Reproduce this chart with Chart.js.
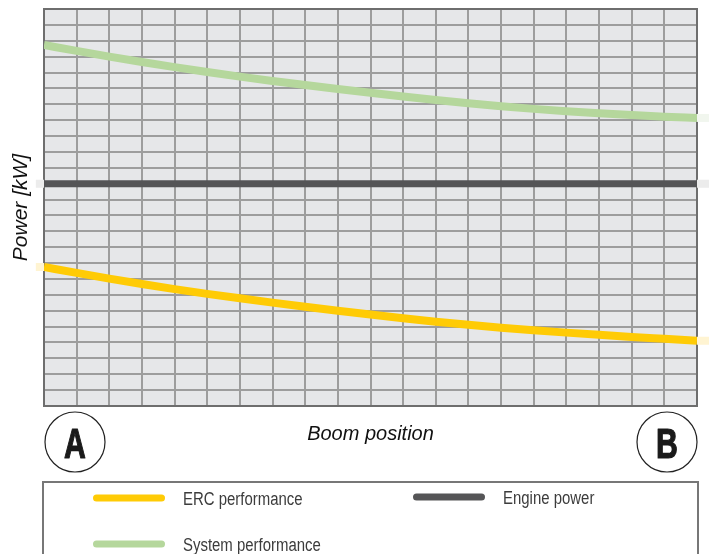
<!DOCTYPE html>
<html>
<head>
<meta charset="utf-8">
<title>Power vs boom position</title>
<script src="https://cdn.jsdelivr.net/npm/chart.js@4.4.1/dist/chart.umd.min.js"></script>
<style>
  body { margin: 0; background: #fff; }
  canvas { display: block; }
</style>
</head>
<body>
<canvas id="powerChart" width="709" height="554"></canvas>
<script>
// boom position from A (0) to B (20), one step per grid column
var boomPositions = [0, 1, 2, 3, 4, 5, 6, 7, 8, 9, 10, 11, 12, 13, 14, 15, 16, 17, 18, 19, 20];
// power in grid rows (25 rows, no scale printed on the original)
var ercPerformance = [8.75, 8.38, 8.02, 7.68, 7.36, 7.06, 6.78, 6.51, 6.25, 6.0, 5.76, 5.53, 5.31, 5.11, 4.93, 4.77, 4.62, 4.48, 4.35, 4.23, 4.11];
var systemPerformance = [22.73, 22.36, 22.0, 21.66, 21.34, 21.03, 20.74, 20.47, 20.21, 19.96, 19.72, 19.49, 19.27, 19.07, 18.88, 18.71, 18.56, 18.43, 18.32, 18.22, 18.14];
var enginePower = [14, 14, 14, 14, 14, 14, 14, 14, 14, 14, 14, 14, 14, 14, 14, 14, 14, 14, 14, 14, 14];
// the printed lines run a little past the grid on the sides
var leftOverrun = -0.25;
var rightOverrun = 20.4;
var endLabels = ['A', 'B'];

function toPoints(values) {
  return boomPositions.map(function(x, i) { return { x: x, y: values[i] }; });
}

// faint bits of line outside the grid
// (points kept unsorted on purpose so chart.js draws them all)
function overrun(values, left, right) {
  var pts = [];
  if (left) { pts.push({ x: 0, y: values[0] }, { x: leftOverrun, y: values[0] }); }
  pts.push({ x: 10, y: null });
  if (right) {
    var last = values[values.length - 1];
    pts.push({ x: rightOverrun, y: last }, { x: 20, y: last });
  }
  return pts;
}

function faint(color, data) {
  return {
    label: '', data: data, borderColor: color, borderWidth: 8,
    tension: 0, clip: false, spanGaps: false, order: 10, faint: true
  };
}

var chartDecor = {
  id: 'chartDecor',
  beforeDraw: function(chart) {
    var a = chart.chartArea, ctx = chart.ctx;
    ctx.save();
    ctx.fillStyle = '#e6e7e9';
    ctx.fillRect(a.left, a.top, a.right - a.left, a.bottom - a.top);
    ctx.restore();
  },
  beforeDatasetsDraw: function(chart) {
    var a = chart.chartArea, ctx = chart.ctx;
    ctx.save();
    ctx.strokeStyle = '#6e6e6e';
    ctx.lineWidth = 2;
    ctx.strokeRect(a.left, a.top, a.right - a.left, a.bottom - a.top);
    ctx.restore();
  },
  afterDraw: function(chart) {
    var ctx = chart.ctx;
    var xs = chart.scales.x;
    ctx.save();

    // A and B circles under the two ends of the axis
    var ends = [xs.getPixelForValue(0) + 31, xs.getPixelForValue(20) - 30];
    ends.forEach(function(cx, i) {
      ctx.beginPath();
      ctx.arc(cx, 442, 30, 0, Math.PI * 2);
      ctx.strokeStyle = '#222';
      ctx.lineWidth = 1.2;
      ctx.stroke();
      ctx.save();
      ctx.translate(cx, 458);
      ctx.scale(0.72, 1);
      ctx.fillStyle = '#1a1a1a';
      ctx.strokeStyle = '#1a1a1a';
      ctx.lineWidth = 1.2;
      ctx.lineJoin = 'round';
      ctx.font = 'bold 42px "Liberation Sans", Arial, sans-serif';
      ctx.textAlign = 'center';
      ctx.fillText(endLabels[i], 0, 0);
      ctx.strokeText(endLabels[i], 0, 0);
      ctx.restore();
    });

    // legend box
    ctx.strokeStyle = '#777';
    ctx.lineWidth = 2;
    ctx.strokeRect(43, 482, 655, 90);

    var slots = [{ x: 93, y: 498 }, { x: 93, y: 544 }, { x: 413, y: 497 }];
    var n = 0;
    chart.data.datasets.forEach(function(ds) {
      if (ds.faint) return;
      var s = slots[n++];
      ctx.beginPath();
      ctx.lineCap = 'round';
      ctx.lineWidth = 7;
      ctx.strokeStyle = ds.borderColor;
      ctx.moveTo(s.x + 3.5, s.y);
      ctx.lineTo(s.x + 68.5, s.y);
      ctx.stroke();
      ctx.save();
      ctx.translate(s.x + 90, s.y + 7);
      ctx.scale(0.83, 1);
      ctx.fillStyle = '#3c3c3c';
      ctx.font = '18px "Liberation Sans", Arial, sans-serif';
      ctx.textAlign = 'left';
      ctx.fillText(ds.label, 0, 0);
      ctx.restore();
    });
    ctx.restore();
  }
};

var powerChart = new Chart(document.getElementById('powerChart'), {
  type: 'line',
  data: {
    datasets: [
      { label: 'ERC performance', data: toPoints(ercPerformance), borderColor: '#ffcb05', borderWidth: 8, cubicInterpolationMode: 'monotone', order: 1 },
      { label: 'System performance', data: toPoints(systemPerformance), borderColor: '#b5d79c', borderWidth: 8, cubicInterpolationMode: 'monotone', order: 2 },
      { label: 'Engine power', data: toPoints(enginePower), borderColor: '#555557', borderWidth: 7, tension: 0, order: 0 },
      faint('#fff4d2', overrun(ercPerformance, true, true)),
      faint('#f1f6ee', overrun(systemPerformance, false, true)),
      faint('#ececec', overrun(enginePower, true, true))
    ]
  },
  options: {
    responsive: false,
    animation: false,
    layout: { padding: { top: 9, right: 12, left: 0, bottom: 0 } },
    elements: { point: { radius: 0 } },
    plugins: {
      legend: { display: false },
      tooltip: { enabled: false }
    },
    scales: {
      x: {
        type: 'linear',
        min: 0,
        max: 20,
        ticks: { display: false, stepSize: 1 },
        grid: { color: '#9d9d9d', lineWidth: 2, drawTicks: false },
        border: { color: '#6e6e6e', width: 2 },
        title: {
          display: true,
          text: 'Boom position',
          color: '#111',
          font: { family: '"Liberation Sans", Arial, sans-serif', size: 20, style: 'italic' },
          padding: { top: 0, bottom: 108 }
        },
        afterFit: function(scale) { scale.height = 148; }
      },
      y: {
        min: 0,
        max: 25,
        ticks: { display: false, stepSize: 1 },
        grid: { color: '#9d9d9d', lineWidth: 2, drawTicks: false },
        border: { color: '#6e6e6e', width: 2 },
        title: {
          display: true,
          text: 'Power [kW]',
          color: '#111',
          font: { family: '"Liberation Sans", Arial, sans-serif', size: 21, style: 'italic' },
          padding: { top: 9, bottom: 0 }
        },
        afterFit: function(scale) { scale.width = 44; }
      }
    }
  },
  plugins: [chartDecor]
});
</script>
</body>
</html>
